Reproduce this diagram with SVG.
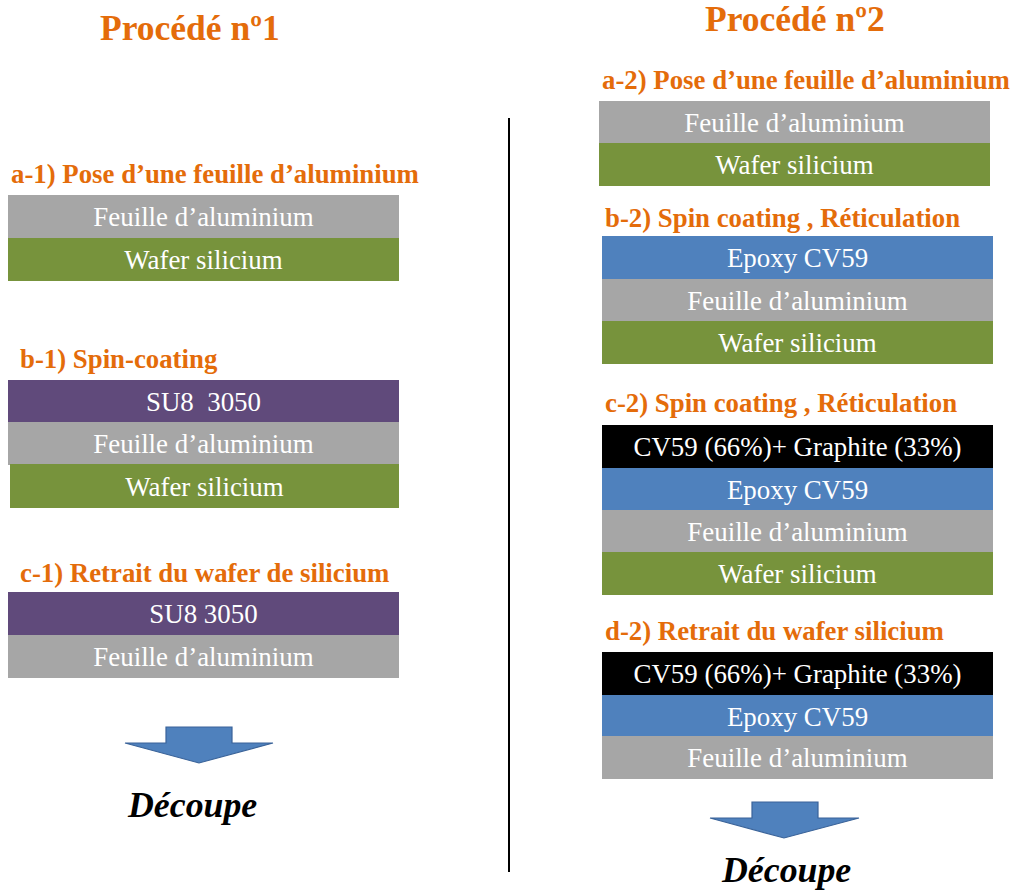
<svg xmlns="http://www.w3.org/2000/svg" width="1014" height="891" viewBox="0 0 1014 891">
<style>
.title{font-family:"Liberation Serif",serif;font-weight:bold;font-size:35.5px;fill:#E46C0A}
.step{font-family:"Liberation Serif",serif;font-weight:bold;font-size:26.8px;fill:#E46C0A}
.lt{font-family:"Liberation Serif",serif;font-size:26.9px;fill:#FFFFFF;text-anchor:middle}
.cut{font-family:"Liberation Serif",serif;font-weight:bold;font-style:italic;font-size:35.8px;fill:#000}
.al{fill:#A6A6A6}
.si{fill:#77933C}
.su{fill:#604A7B}
.ep{fill:#4F81BD}
.gr{fill:#000000}
.arrow{fill:#4F81BD;stroke:#3A6399;stroke-width:1.2}
</style>
<rect width="1014" height="891" fill="#FFFFFF"/>
<g id="titles">
<text class="title" x="100" y="40">Procédé nº1</text>
<text class="title" x="705" y="31">Procédé nº2</text>
</g>
<g id="connectors">
<line x1="509" y1="118" x2="509" y2="872" stroke="#000" stroke-width="2"/>
<path class="arrow" d="M166 727 H232 V743 H273 L199 763 L125 743 H166 Z"/>
<path class="arrow" d="M752 802 H818 V818 H859 L784 838 L710 818 H752 Z"/>
</g>
<g id="step-a1">
<text class="step" x="11" y="183">a-1) Pose d’une feuille d’aluminium</text>
<rect class="al" x="8" y="195" width="391" height="43"/>
<text class="lt" x="203.5" y="226">Feuille d’aluminium</text>
<rect class="si" x="8" y="238" width="391" height="43"/>
<text class="lt" x="203.5" y="269">Wafer silicium</text>
</g>
<g id="step-b1">
<text class="step" x="20" y="368">b-1) Spin-coating</text>
<rect class="su" x="8" y="380" width="391" height="42"/>
<text class="lt" x="203.5" y="411" xml:space="preserve">SU8  3050</text>
<rect class="al" x="8" y="422" width="391" height="43"/>
<text class="lt" x="203.5" y="453">Feuille d’aluminium</text>
<rect class="si" x="10" y="464" width="389" height="44"/>
<text class="lt" x="204.5" y="496">Wafer silicium</text>
</g>
<g id="step-c1">
<text class="step" x="20" y="582">c-1) Retrait du wafer de silicium</text>
<rect class="su" x="8" y="592" width="391" height="43"/>
<text class="lt" x="203.5" y="623">SU8 3050</text>
<rect class="al" x="8" y="635" width="391" height="43"/>
<text class="lt" x="203.5" y="666">Feuille d’aluminium</text>
</g>
<g id="cut-1">
<text class="cut" x="128" y="817">Découpe</text>
</g>
<g id="step-a2">
<text class="step" x="602" y="89">a-2) Pose d’une feuille d’aluminium</text>
<rect class="al" x="599" y="101" width="391" height="42"/>
<text class="lt" x="794.5" y="132">Feuille d’aluminium</text>
<rect class="si" x="599" y="143" width="391" height="43"/>
<text class="lt" x="794.5" y="174">Wafer silicium</text>
</g>
<g id="step-b2">
<text class="step" x="605" y="227">b-2) Spin coating , Réticulation</text>
<rect class="ep" x="602" y="236" width="391" height="43"/>
<text class="lt" x="797.5" y="267">Epoxy CV59</text>
<rect class="al" x="602" y="279" width="391" height="42"/>
<text class="lt" x="797.5" y="310">Feuille d’aluminium</text>
<rect class="si" x="602" y="321" width="391" height="43"/>
<text class="lt" x="797.5" y="352">Wafer silicium</text>
</g>
<g id="step-c2">
<text class="step" x="605" y="412">c-2) Spin coating , Réticulation</text>
<rect class="gr" x="602" y="425" width="391" height="43"/>
<text class="lt" x="797.5" y="456">CV59 (66%)+ Graphite (33%)</text>
<rect class="ep" x="602" y="468" width="391" height="42"/>
<text class="lt" x="797.5" y="499">Epoxy CV59</text>
<rect class="al" x="602" y="510" width="391" height="42"/>
<text class="lt" x="797.5" y="541">Feuille d’aluminium</text>
<rect class="si" x="602" y="552" width="391" height="43"/>
<text class="lt" x="797.5" y="583">Wafer silicium</text>
</g>
<g id="step-d2">
<text class="step" x="605" y="640">d-2) Retrait du wafer silicium</text>
<rect class="gr" x="602" y="652" width="391" height="43"/>
<text class="lt" x="797.5" y="683">CV59 (66%)+ Graphite (33%)</text>
<rect class="ep" x="602" y="695" width="391" height="41"/>
<text class="lt" x="797.5" y="726">Epoxy CV59</text>
<rect class="al" x="602" y="736" width="391" height="43"/>
<text class="lt" x="797.5" y="767">Feuille d’aluminium</text>
</g>
<g id="cut-2">
<text class="cut" x="722" y="882">Découpe</text>
</g>
</svg>
